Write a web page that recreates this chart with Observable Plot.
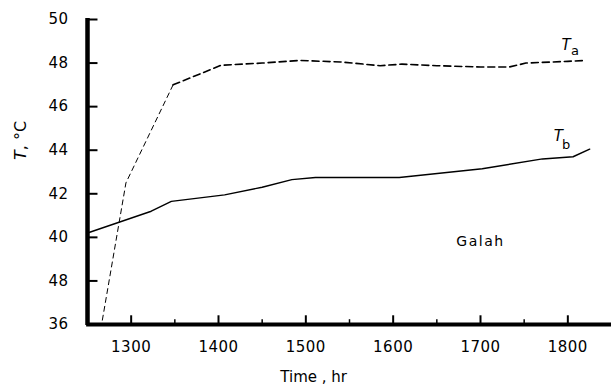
<!DOCTYPE html>
<html><head><meta charset="utf-8">
<script src="https://cdn.jsdelivr.net/npm/d3@7"></script>
<script src="https://cdn.jsdelivr.net/npm/@observablehq/plot@0.6"></script>
<style>body{margin:0;background:#fff}</style>
</head><body><div id="chart"></div>
<script>
const yTicks = [36, 38, 40, 42, 44, 46, 48, 50];
const yTickLabels = ["36", "48", "40", "42", "44", "46", "48", "50"];
const xMajorTicks = [1300, 1400, 1500, 1600, 1700, 1800];
const xMinorTicks = [1350, 1450, 1550, 1650, 1750];
const xTickLabels = ["1300", "1400", "1500", "1600", "1700", "1800"];

const taRiseTime = [1267, 1294, 1348];
const taRiseVal = [36.2, 42.5, 47.0];
const taTime = [1348, 1403, 1450, 1493, 1540, 1585, 1610, 1650, 1700, 1733, 1752, 1800, 1820];
const taVal = [47.0, 47.9, 48.0, 48.12, 48.05, 47.88, 47.95, 47.88, 47.82, 47.82, 48.0, 48.08, 48.12];
const tbTime = [1250, 1323, 1346, 1407, 1450, 1484, 1511, 1607, 1702, 1771, 1806, 1825];
const tbVal = [40.2, 41.2, 41.65, 41.95, 42.3, 42.65, 42.75, 42.75, 43.15, 43.6, 43.7, 44.05];

const rise = taRiseTime.map((t, i) => ({t, v: taRiseVal[i]}));
const ta = taTime.map((t, i) => ({t, v: taVal[i]}));
const tb = tbTime.map((t, i) => ({t, v: tbVal[i]}));
const font = "DejaVu Sans";

const plot = Plot.plot({
  width: 611, height: 385,
  marginLeft: 87, marginRight: 0, marginTop: 19, marginBottom: 61,
  style: {fontFamily: font, fontSize: "14px", color: "#000", background: "#fff"},
  x: {domain: [1250, 1850]},
  y: {domain: [36, 50]},
  marks: [
    Plot.axisY({ticks: yTicks, tickSize: 0, tickPadding: 19, tickFormat: d => yTickLabels[yTicks.indexOf(d)], label: null}),
    Plot.axisX({ticks: xMajorTicks, tickSize: 0, tickPadding: 17, tickFormat: d => xTickLabels[xMajorTicks.indexOf(d)], label: null}),
    Plot.ruleY(yTicks, {y: d => d, x1: 1250, x2: 1262, strokeWidth: 2}),
    Plot.ruleX(xMajorTicks, {x: d => d, y1: 36, y2: 36.4, strokeWidth: 2}),
    Plot.ruleX(xMinorTicks, {x: d => d, y1: 36, y2: 36.22, strokeWidth: 1.5}),
    Plot.ruleX([1250], {y1: 35.95, y2: 50.05, strokeWidth: 4.5}),
    Plot.ruleY([36], {x1: 1249, x2: 1850, strokeWidth: 4}),
    Plot.line(rise, {x: "t", y: "v", stroke: "#000", strokeWidth: 1, strokeDasharray: "5,4"}),
    Plot.line(ta, {x: "t", y: "v", stroke: "#000", strokeWidth: 1.6, strokeDasharray: "7,4"}),
    Plot.line(tb, {x: "t", y: "v", stroke: "#000", strokeWidth: 1.4}),
    Plot.text(["T"], {x: 1798, y: 48.8, fontStyle: "italic", fontSize: 15}),
    Plot.text(["a"], {x: 1798, y: 48.8, dx: 9, dy: 5, fontSize: 13}),
    Plot.text(["T"], {x: 1789, y: 44.65, fontStyle: "italic", fontSize: 15}),
    Plot.text(["b"], {x: 1789, y: 44.65, dx: 8, dy: 9, fontSize: 13}),
    Plot.text(["Galah"], {x: 1700, y: 39.8, fontSize: 14, className: "galah"}),
    Plot.text(["Time , hr"], {x: 1509, y: 36, dy: 53, fontSize: 15}),
    Plot.text(["T, °C"], {frameAnchor: "left", dx: -67, dy: -12, rotate: -90, fontSize: 16, className: "ylab"})
  ]
});
d3.select(plot).selectAll("g.ylab text").each(function() {
  const t = d3.select(this);
  t.text("");
  t.append("tspan").attr("font-style", "italic").text("T");
  t.append("tspan").text(", °C");
});
d3.select(plot).selectAll('g[aria-label="x-axis tick label"], g[aria-label="y-axis tick label"]')
  .attr("font-size", 15).attr("letter-spacing", "0.5px");
d3.select(plot).selectAll("g.galah").attr("letter-spacing", "1.5px");
document.getElementById("chart").appendChild(plot);
</script>
</body></html>
